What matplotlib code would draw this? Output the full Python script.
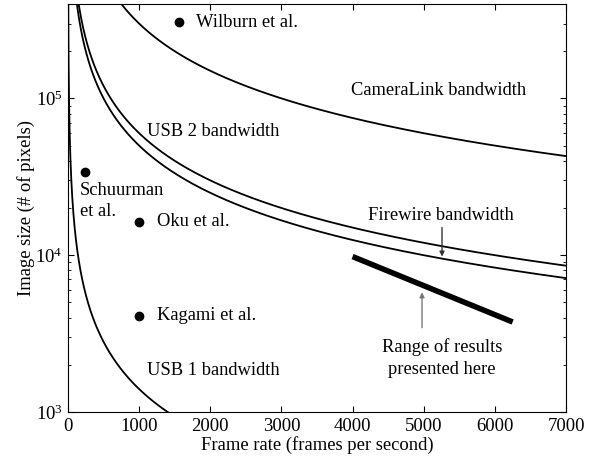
import numpy as np
import matplotlib
matplotlib.use("Agg")
import matplotlib.pyplot as plt

plt.rcParams['font.family'] = ['Liberation Serif', 'DejaVu Serif']
plt.rcParams['mathtext.fontset'] = 'custom'
plt.rcParams['mathtext.rm'] = 'Liberation Serif'
plt.rcParams['mathtext.it'] = 'Liberation Serif:italic'

# Bandwidth limits (pixels per second)
links = ["USB 1 bandwidth", "USB 2 bandwidth", "Firewire bandwidth", "CameraLink bandwidth"]
bandwidths = [1.4e6, 6.0e7, 5.0e7, 3.0e8]

# Published systems (frame rate, image size)
systems = ["Wilburn et al.", "Schuurman\net al.", "Oku et al.", "Kagami et al."]
sys_fps = [1560, 240, 1000, 1000]
sys_px = [307200, 34000, 16384, 4096]

# Range of results presented here
range_fps = [4000, 6250]
range_px = [9800, 3750]

fig = plt.figure(figsize=(5.95, 4.61), dpi=100)
ax = fig.add_axes([0.1143, 0.1063, 0.837, 0.885])

fps = np.linspace(1, 7000, 4000)
for b in bandwidths:
    ax.plot(fps, b / fps, color='black', lw=1.3)

ax.plot(sys_fps, sys_px, 'o', color='black', ms=6)
ax.plot(range_fps, range_px, color='black', lw=4, solid_capstyle='butt')

ax.set_yscale('log')
ax.set_xlim(0, 7000)
ax.set_ylim(1000, 4.0e5)
ax.set_xticks(range(0, 7001, 1000))
ax.set_yticks([1e3, 1e4, 1e5])
ax.tick_params(which='both', direction='in', top=True, right=True, labelsize=13.5)
ax.tick_params(which='major', length=4, pad=4)
ax.tick_params(which='minor', length=2)
ax.set_xlabel("Frame rate (frames per second)", fontsize=13.4, labelpad=1)
ax.set_ylabel("Image size (# of pixels)", fontsize=13.4, labelpad=0)

fs = 13.3
ax.text(1800, 3.07e5, "Wilburn et al.", fontsize=fs, va='center', ha='left')
ax.text(5215, 1.13e5, "CameraLink bandwidth", fontsize=fs, va='center', ha='center')
ax.text(1110, 6.15e4, "USB 2 bandwidth", fontsize=fs, va='center', ha='left')
ax.text(170, 2.95e4, "Schuurman\net al.", fontsize=fs, va='top', ha='left', linespacing=1.35)
ax.text(1250, 1.64e4, "Oku et al.", fontsize=fs, va='center', ha='left')
ax.text(1250, 4.1e3, "Kagami et al.", fontsize=fs, va='center', ha='left')
ax.text(1110, 1.85e3, "USB 1 bandwidth", fontsize=fs, va='center', ha='left')
ax.text(5240, 1.8e4, "Firewire bandwidth", fontsize=fs, va='center', ha='center')
ax.text(5260, 2.2e3, "Range of results\npresented here", fontsize=fs, va='center', ha='center', linespacing=1.35)

ax.annotate("", xy=(5257, 9.8e3), xytext=(5257, 1.5e4),
            arrowprops=dict(arrowstyle='-|>', color='#333333', lw=1.0, mutation_scale=7, shrinkA=0, shrinkB=0))
ax.annotate("", xy=(4976, 5.8e3), xytext=(4976, 3.45e3),
            arrowprops=dict(arrowstyle='-|>', color='#777777', lw=1.0, mutation_scale=7, shrinkA=0, shrinkB=0))

fig.savefig("out.png", dpi=100)
